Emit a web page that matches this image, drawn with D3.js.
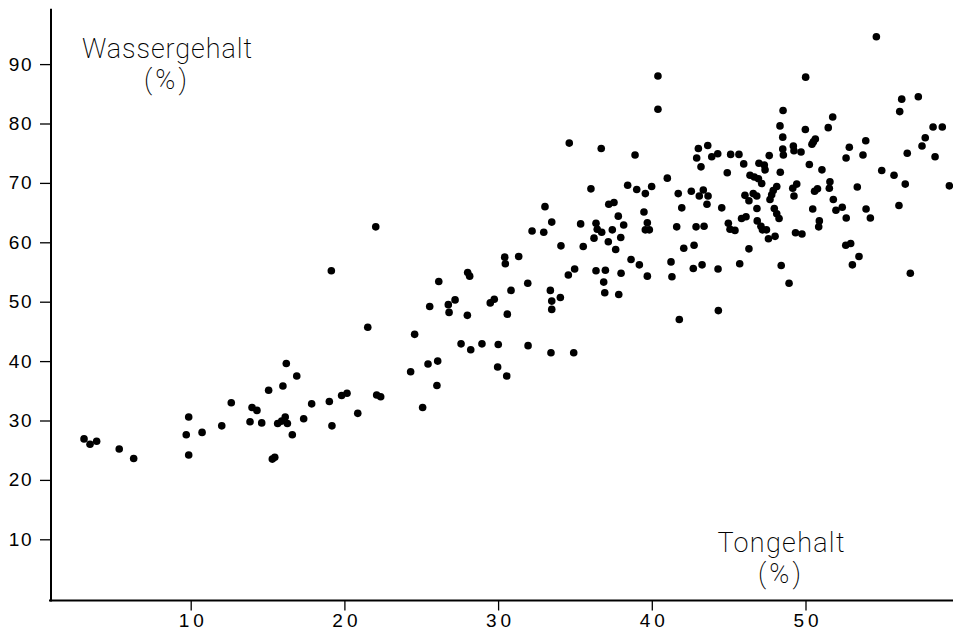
<!DOCTYPE html>
<html><head><meta charset="utf-8">
<script src="https://cdn.jsdelivr.net/npm/d3@7"></script>
<style>html,body{margin:0;padding:0;background:#fff;} svg{display:block}</style>
</head><body><svg id="c" width="953" height="631"></svg>
<script>
// Tongehalt (%) of each sample
const tonGehalt = [
3.06,3.45,3.88,5.35,6.29,9.87,9.71,9.87,10.74,12.02,12.64,13.86,13.99,14.31,14.62,15.07,16.0,15.31,15.47,15.66,
16.15,16.29,16.61,17.35,17.87,16.22,16.9,19.02,19.82,20.17,22.1,22.36,20.87,19.19,25.09,26.02,19.15,22.04,21.52,15.92,
33.05,33.49,32.21,32.97,34.09,30.43,30.47,31.34,28.02,28.15,26.14,34.57,31.93,30.84,33.4,34.05,33.49,33.49,27.2,26.76,
26.81,25.55,29.49,29.75,28.0,30.6,24.57,27.59,28.22,28.95,30.01,31.95,33.44,25.44,26.07,24.31,29.97,30.56,34.92,34.98,
40.4,40.4,34.63,36.71,38.91,43.03,43.64,42.92,43.9,44.29,45.13,45.67,43.2,45.98,46.97,44.91,46.39,46.67,46.94,47.15,
41.01,36.04,38.43,39.02,39.58,39.99,41.72,42.57,43.35,43.09,43.66,46.06,46.6,46.83,37.54,37.2,46.32,43.59,41.95,44.55,
46.84,37.82,39.49,35.37,36.37,36.45,36.74,37.43,38.17,39.71,39.58,39.84,41.62,42.88,43.4,44.98,45.84,46.13,46.86,45.09,
45.41,36.24,37.98,37.17,35.54,37.65,42.08,42.75,46.32,38.65,39.19,41.25,45.72,36.37,36.98,38.0,39.71,41.31,42.7,43.27,
44.31,36.87,36.94,37.85,44.33,41.79,47.64,48.52,48.56,49.21,49.25,49.71,50.51,47.32,47.37,48.36,50.25,51.07,48.13,47.9,
47.8,47.69,49.43,49.17,49.25,50.78,50.59,51.59,51.55,51.81,47.97,48.13,48.28,50.47,51.98,50.9,50.86,47.1,47.2,47.46,
47.59,48.02,49.35,49.77,54.61,50.01,56.26,57.34,56.13,48.54,51.77,48.34,49.99,51.48,58.3,58.9,48.52,50.64,50.42,57.79,
53.92,52.85,57.58,56.62,52.64,53.74,58.43,54.96,55.76,56.49,59.36,53.37,56.08,53.94,54.22,52.39,52.65,52.62,52.94,53.48,
53.05,48.42,48.93,56.82
];
// Wassergehalt (%) of each sample
const wasserGehalt = [
26.9,26.0,26.5,25.2,23.6,30.6,27.6,24.2,28.0,29.1,33.0,29.8,32.2,31.7,29.6,35.1,35.8,23.5,23.8,29.5,
30.6,29.5,27.6,30.3,32.8,39.6,37.5,33.2,34.2,34.6,34.3,34.0,31.2,29.1,32.2,35.9,55.2,62.6,45.7,29.9,
66.0,63.4,61.9,61.7,59.4,57.5,56.4,57.6,54.9,54.3,53.4,54.5,53.1,51.9,51.9,50.7,50.1,48.7,50.3,49.5,
48.2,49.2,49.8,50.4,47.7,47.9,44.5,42.9,41.9,42.9,42.8,42.6,41.4,39.5,40.0,38.2,39.0,37.5,41.4,55.5,
88.0,82.4,76.7,75.8,74.7,75.8,76.3,74.2,74.4,74.9,74.8,74.8,72.7,73.2,73.3,71.7,71.3,71.0,70.7,69.9,
70.8,69.0,69.6,68.9,68.2,69.4,68.2,68.6,68.8,67.8,67.8,67.9,68.2,67.8,66.7,66.4,67.0,66.4,65.8,65.8,
65.7,64.4,65.1,63.1,63.2,62.2,61.7,62.1,62.9,63.3,62.1,62.1,62.6,62.6,62.7,63.2,64.0,64.3,63.6,62.2,
62.0,60.7,60.8,60.1,59.3,58.8,59.0,59.5,58.9,57.1,56.2,56.7,56.4,55.2,55.3,54.8,54.3,54.2,55.6,56.2,
55.5,53.3,51.5,51.2,48.5,47.0,74.6,75.7,74.7,76.2,75.4,75.2,76.9,73.0,72.2,71.8,73.1,72.2,69.4,68.7,
68.0,67.2,69.8,69.1,67.8,69.0,68.6,70.2,69.1,67.2,65.7,64.8,64.0,65.6,65.4,63.6,62.6,62.7,62.1,62.1,
60.6,61.0,61.6,61.4,94.6,87.8,84.1,84.5,82.0,82.2,81.1,79.6,79.0,79.3,79.4,79.4,77.7,77.4,76.5,77.6,
77.1,76.0,76.2,75.0,74.2,74.7,74.4,72.1,71.3,69.8,69.5,69.3,66.2,65.6,64.1,65.9,64.1,59.5,59.8,57.6,
56.2,56.1,53.1,54.8
];
const xTickValues = [10, 20, 30, 40, 50];
const yTickValues = [10, 20, 30, 40, 50, 60, 70, 80, 90];
const xTitleLines = ["Tongehalt", "(%)"];
const yTitleLines = ["Wassergehalt", "(%)"];

const svg = d3.select("#c");
const x = d3.scaleLinear().domain([0, 60]).range([37, 37 + 15.37 * 60]);
const y = d3.scaleLinear().domain([0, 100]).range([598.7, 4.7]);

const axisY0 = 600.5, axisX0 = 51;
const tickFont = "'Liberation Sans', Arial, sans-serif";
const titleFont = "Roboto, 'DejaVu Sans', sans-serif";

// x axis
const gx = svg.append("g").attr("transform", `translate(0,${axisY0})`)
  .call(d3.axisBottom(x).tickValues(xTickValues).tickSize(10).tickSizeOuter(0).tickPadding(3).tickFormat(d3.format("d")));
gx.select(".domain").remove();
gx.selectAll(".tick line").attr("stroke", "#000").attr("stroke-width", 1.3);
gx.selectAll(".tick text").attr("font-family", tickFont).attr("font-size", 19)
  .attr("letter-spacing", "4px").attr("dx", "2px").attr("fill", "#000");
svg.append("line").attr("x1", axisX0 - 2).attr("x2", 953).attr("y1", axisY0).attr("y2", axisY0)
  .attr("stroke", "#000").attr("stroke-width", 2);

// y axis
const gy = svg.append("g").attr("transform", `translate(${axisX0},0)`)
  .call(d3.axisLeft(y).tickValues(yTickValues).tickSize(11).tickSizeOuter(0).tickPadding(7).tickFormat(d3.format("d")));
gy.select(".domain").remove();
gy.selectAll(".tick line").attr("stroke", "#000").attr("stroke-width", 1.3);
gy.selectAll(".tick text").attr("font-family", tickFont).attr("font-size", 19)
  .attr("letter-spacing", "1.5px").attr("fill", "#000");
svg.append("line").attr("x1", axisX0).attr("x2", axisX0).attr("y1", y(99.3)).attr("y2", axisY0 + 1)
  .attr("stroke", "#000").attr("stroke-width", 2);

// points
svg.append("g").selectAll("circle").data(tonGehalt.map((t, i) => [t, wasserGehalt[i]]))
  .join("circle")
  .attr("cx", d => x(d[0])).attr("cy", d => y(d[1])).attr("r", 3.8).attr("fill", "#000");

// titles
function title(lines, cx, base, w1) {
  const t = svg.append("text").attr("font-family", titleFont).attr("font-weight", 200)
    .attr("font-size", 27).attr("fill", "#000").attr("text-anchor", "middle");
  t.append("tspan").attr("x", cx).attr("y", base).attr("textLength", w1).attr("lengthAdjust", "spacing").text(lines[0]);
  t.append("tspan").attr("x", cx).attr("y", base + 31).text(lines[1]).attr("letter-spacing", "3px");
}
title(yTitleLines, 167, 58, 170);
title(xTitleLines, 781, 552, 127);
</script></body></html>
